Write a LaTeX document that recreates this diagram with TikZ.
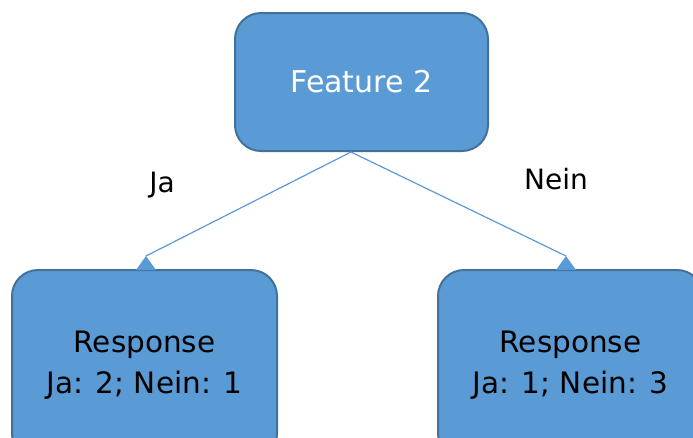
\documentclass[tikz,border=0pt]{standalone}
\usepackage{fontspec}
\setmainfont{DejaVu Sans}
\definecolor{boxfill}{HTML}{5B9BD5}
\definecolor{boxline}{HTML}{41719C}
\begin{document}
\begin{tikzpicture}[x=1pt,y=1pt,
  box/.style={draw=boxline, fill=boxfill, line width=2pt, rounded corners=26pt, inner sep=0pt, align=center},
  conn/.style={draw=boxfill, line width=1.2pt},
  tip/.style={fill=boxfill},
  lbl/.style={font=\fontsize{28}{34}\selectfont, text=black}]
\useasboundingbox (0,0) rectangle (693,-437);
\clip (0,0) rectangle (693,-437);
\node[box, minimum width=253pt, minimum height=138pt, text=white, font=\fontsize{30}{36}\selectfont] (top) at (361.5,-82) {Feature 2};
\node[box, minimum width=265pt, minimum height=190pt, font=\fontsize{29.5}{41}\selectfont] (left) at (144.5,-365) {Response\\Ja: 2; Nein: 1};
\node[box, minimum width=265pt, minimum height=190pt, font=\fontsize{29.5}{41}\selectfont] (right) at (570.5,-365) {Response\\Ja: 1; Nein: 3};
\coordinate (s) at (351,-152);
\coordinate (al) at (146,-256);
\coordinate (ar) at (566,-256);
\draw[conn] (s) -- (al);
\draw[conn] (s) -- (ar);
\fill[tip] (al) -- ++(-10,-14) -- ++(20,0) -- cycle;
\fill[tip] (ar) -- ++(-10,-14) -- ++(20,0) -- cycle;
\node[lbl] (ja) at (162,-185) {Ja};
\node[lbl] (nein) at (556,-179) {Nein};
\end{tikzpicture}
\end{document}
